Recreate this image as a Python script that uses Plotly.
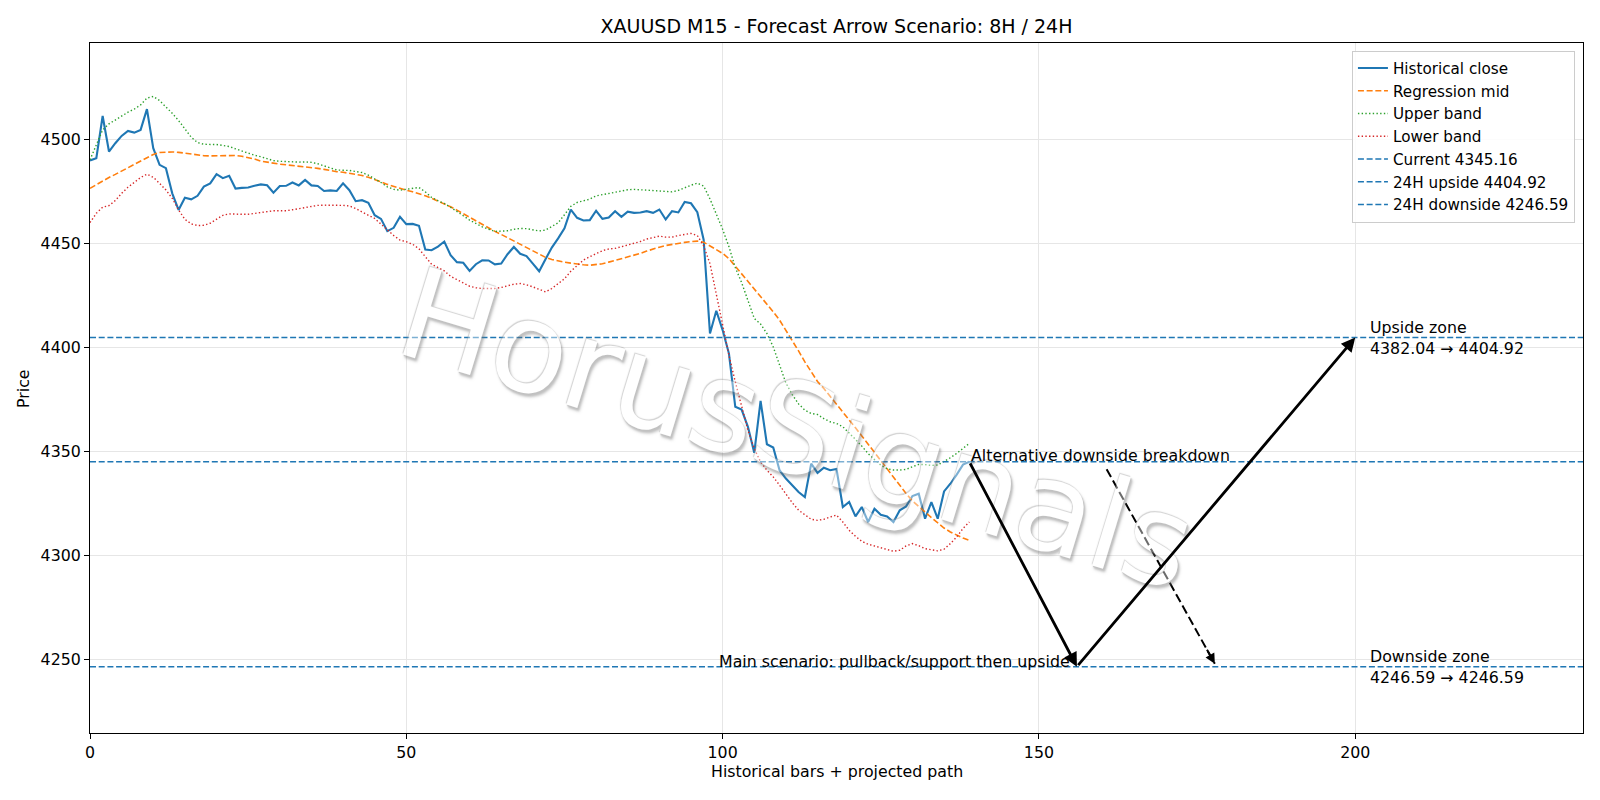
import plotly.graph_objects as go

# ---------------- data ----------------
close = [
    4490.1, 4491.2, 4511.5, 4494.4, 4498.4, 4501.9, 4504.3, 4503.5, 4504.8, 4514.8,
    4496.0, 4488.0, 4486.4, 4474.3, 4466.3, 4472.2, 4471.4, 4473.1, 4477.5, 4479.1,
    4483.5, 4481.6, 4482.7, 4476.6, 4476.9, 4477.1, 4477.9, 4478.6, 4478.2, 4474.6,
    4477.8, 4477.9, 4479.5, 4478.1, 4480.7, 4478.1, 4477.8, 4475.4, 4475.7, 4475.4,
    4479.1, 4475.8, 4470.5, 4471.0, 4469.7, 4463.8, 4462.0, 4456.1, 4457.7, 4463.0,
    4459.5, 4459.6, 4458.7, 4447.3, 4446.9, 4448.7, 4451.1, 4444.5, 4441.2, 4440.9,
    4437.0, 4440.2, 4442.1, 4442.0, 4440.1, 4440.5, 4445.0, 4448.5, 4445.2, 4444.1,
    4440.5, 4436.8, 4442.6, 4448.2, 4452.6, 4457.5, 4466.5, 4462.5, 4461.2, 4461.4,
    4465.9, 4462.0, 4462.7, 4465.7, 4463.0, 4465.5, 4464.9, 4465.1, 4465.7, 4464.9,
    4466.5, 4461.7, 4465.7, 4465.1, 4470.1, 4469.5, 4465.2, 4452.0, 4406.9, 4417.8,
    4408.5, 4397.2, 4371.6, 4370.3, 4362.0, 4349.5, 4374.5, 4353.6, 4352.0, 4341.1,
    4337.1, 4333.9, 4330.6, 4328.2, 4344.3, 4339.8, 4342.3, 4341.1, 4341.7, 4323.4,
    4325.8, 4318.9, 4323.4, 4316.2, 4322.6, 4319.7, 4318.9, 4316.2, 4321.8, 4323.7,
    4328.7, 4329.8, 4317.8, 4325.8, 4317.8, 4330.9, 4334.6, 4339.0, 4343.8, 4345.16,
]
mid = [
    4476.7, 4478.5, 4480.2, 4481.9, 4483.4, 4485.0, 4486.5, 4488.2, 4490.0, 4491.7,
    4493.0, 4493.9, 4494.2, 4494.2, 4494.0, 4493.6, 4493.1, 4492.6, 4492.4, 4492.3,
    4492.4, 4492.6, 4492.6, 4492.5, 4492.1, 4491.5, 4490.8, 4489.8, 4489.2, 4488.7,
    4488.3, 4488.0, 4487.7, 4487.4, 4487.0, 4486.7, 4486.3, 4485.8, 4485.2, 4484.7,
    4484.4, 4484.0, 4483.5, 4482.9, 4482.0, 4481.0, 4479.8, 4478.6, 4477.6, 4476.5,
    4475.8, 4475.0, 4474.2, 4473.1, 4471.9, 4470.6, 4469.4, 4467.8, 4466.2, 4464.5,
    4462.7, 4460.8, 4459.0, 4457.5, 4456.0, 4454.5, 4452.9, 4451.4, 4449.9, 4448.3,
    4446.7, 4445.1, 4443.5, 4442.5, 4441.7, 4441.2, 4440.7, 4440.2, 4439.9, 4439.7,
    4440.0, 4440.4, 4441.2, 4442.0, 4442.8, 4443.6, 4444.5, 4445.4, 4446.5, 4447.6,
    4448.4, 4449.2, 4449.8, 4450.3, 4450.7, 4451.1, 4451.3, 4450.8, 4448.9, 4447.3,
    4445.4, 4442.9, 4439.3, 4435.4, 4431.7, 4428.0, 4424.5, 4421.0, 4417.3, 4413.3,
    4408.5, 4403.7, 4398.5, 4393.2, 4388.4, 4383.8, 4380.4, 4376.7, 4372.9, 4369.2,
    4365.2, 4361.5, 4357.6, 4353.6, 4349.9, 4345.9, 4341.9, 4337.6, 4333.9, 4329.9,
    4326.3, 4323.8, 4321.0, 4318.3, 4315.7, 4313.3, 4311.4, 4309.8, 4308.5, 4307.4,
]
upper = [
    4490.4, 4497.6, 4504.8, 4507.7, 4509.6, 4511.5, 4513.3, 4514.8, 4516.8, 4520.1,
    4520.9, 4518.9, 4516.0, 4512.8, 4509.3, 4505.1, 4501.3, 4498.7, 4497.9, 4497.8,
    4497.8, 4497.3, 4496.8, 4495.7, 4494.7, 4493.4, 4492.6, 4491.9, 4491.0, 4490.0,
    4489.7, 4489.5, 4489.4, 4489.3, 4489.4, 4489.2, 4488.5, 4487.6, 4486.5, 4485.5,
    4485.4, 4485.3, 4484.8, 4484.3, 4483.0, 4481.4, 4479.5, 4477.4, 4476.2, 4475.8,
    4476.2, 4476.5, 4477.1, 4475.0, 4472.3, 4470.8, 4469.4, 4467.6, 4465.7, 4463.5,
    4461.4, 4459.7, 4458.2, 4457.0, 4456.0, 4456.1, 4456.3, 4457.0, 4457.4, 4457.3,
    4456.9, 4456.2, 4456.6, 4458.2, 4460.1, 4464.0, 4468.0, 4469.9, 4470.7, 4471.5,
    4473.1, 4473.8, 4474.2, 4474.8, 4475.5, 4476.0, 4476.2, 4476.0, 4475.8, 4475.5,
    4475.2, 4475.0, 4475.0, 4475.7, 4477.1, 4478.2, 4479.2, 4477.8, 4471.6, 4464.2,
    4457.0, 4448.6, 4438.6, 4431.4, 4422.6, 4414.1, 4411.4, 4406.9, 4400.4, 4391.6,
    4383.1, 4377.5, 4373.0, 4370.0, 4368.4, 4367.9, 4365.9, 4364.4, 4363.6, 4362.0,
    4359.1, 4355.9, 4352.7, 4349.1, 4346.2, 4343.6, 4341.8, 4341.2, 4341.2, 4341.5,
    4342.8, 4343.9, 4343.8, 4343.4, 4343.6, 4345.2, 4347.1, 4349.2, 4351.6, 4354.0,
]
lower = [
    4460.2, 4464.7, 4467.6, 4468.4, 4470.8, 4474.3, 4477.2, 4479.5, 4481.9, 4483.5,
    4482.0, 4479.1, 4475.9, 4471.9, 4466.3, 4461.8, 4459.6, 4458.8, 4458.9, 4459.9,
    4461.8, 4463.7, 4464.4, 4464.2, 4464.2, 4464.2, 4464.7, 4465.1, 4465.5, 4465.9,
    4465.9, 4465.9, 4466.4, 4466.9, 4467.6, 4468.2, 4468.5, 4468.6, 4468.6, 4468.6,
    4468.5, 4468.2, 4467.0, 4465.3, 4463.9, 4462.2, 4459.5, 4456.6, 4454.0, 4451.8,
    4451.0, 4449.8, 4447.6, 4443.8, 4440.2, 4438.6, 4437.0, 4434.4, 4432.8, 4430.9,
    4429.6, 4428.9, 4428.5, 4428.5, 4428.5, 4429.0, 4429.8, 4430.6, 4430.9, 4430.3,
    4429.3, 4428.0, 4426.9, 4428.5, 4430.9, 4433.2, 4436.8, 4439.7, 4442.2, 4443.8,
    4445.4, 4446.7, 4447.5, 4447.8, 4448.6, 4449.4, 4450.3, 4451.1, 4452.3, 4453.1,
    4453.7, 4453.2, 4453.2, 4454.0, 4454.5, 4455.0, 4454.0, 4449.0, 4440.5, 4425.3,
    4411.7, 4396.4, 4383.6, 4371.6, 4360.3, 4351.5, 4345.1, 4341.1, 4337.9, 4333.9,
    4329.5, 4325.5, 4321.9, 4319.5, 4317.5, 4317.0, 4317.5, 4318.6, 4319.5, 4316.2,
    4312.2, 4309.3, 4306.9, 4305.5, 4304.7, 4303.7, 4302.9, 4302.1, 4302.6, 4304.7,
    4305.8, 4304.8, 4303.4, 4302.9, 4302.3, 4303.1, 4305.8, 4309.0, 4313.1, 4316.2,
]
bars = list(range(len(close)))

current_price = 4345.16
upside_target = 4404.92
upside_zone_low = 4382.04
downside_target = 4246.59
downside_zone_low = 4246.59

main_path_x = [139, 156, 200]
main_path_y = [current_price, downside_target, upside_target]
alt_path_x = [160.7, 177.8]
alt_path_y = [4341.6, 4248.0]
zone_label_x = 202
x_range = [0, 236]
y_range = [4214.7, 4546.6]
x_ticks = [0, 50, 100, 150, 200]
y_ticks = [4250, 4300, 4350, 4400, 4450, 4500]

FONT = "DejaVu Sans"
FS = 15.8

fig = go.Figure()

fig.add_trace(go.Scatter(x=bars, y=close, mode="lines", name="Historical close",
                         line=dict(color="#1f77b4", width=2.1)))
fig.add_trace(go.Scatter(x=bars, y=mid, mode="lines", name="Regression mid",
                         line=dict(color="#ff7f0e", width=1.6, dash="6px,2.7px")))
fig.add_trace(go.Scatter(x=bars, y=upper, mode="lines", name="Upper band",
                         line=dict(color="#2ca02c", width=1.4, dash="1.4px,2.3px")))
fig.add_trace(go.Scatter(x=bars, y=lower, mode="lines", name="Lower band",
                         line=dict(color="#d62728", width=1.4, dash="1.4px,2.3px")))

# dashed alternative path (arrowhead added as annotation)
fig.add_trace(go.Scatter(x=alt_path_x, y=alt_path_y, mode="lines", showlegend=False,
                         hoverinfo="skip",
                         line=dict(color="black", width=2.0, dash="9px,4px")))

hlines = [
    (current_price, f"Current {current_price:.2f}"),
    (upside_target, f"24H upside {upside_target:.2f}"),
    (downside_target, f"24H downside {downside_target:.2f}"),
]
for val, label in hlines:
    fig.add_shape(type="line", xref="x domain", x0=0, x1=1, yref="y", y0=val, y1=val,
                  line=dict(color="#1f77b4", width=1.6, dash="6px,2.7px"),
                  showlegend=True, name=label, layer="above")

annotations = []
# watermark (drawn first so it sits under the other annotations)
annotations.append(dict(x=111.7, y=4360.8, xref="x", yref="y", text="HorusSignals",
                        showarrow=False, textangle=17, xanchor="center", yanchor="middle",
                        opacity=0.42,
                        font=dict(family=FONT, size=126, color="rgb(255,255,255)",
                                  shadow="-1px -1px 1px rgb(150,150,150), 1px 1px 1px rgb(110,110,110), 2px 2px 2px rgb(110,110,110), 3px 3px 3px rgba(110,110,110,0.8)")))
# main scenario arrows
for i in range(len(main_path_x) - 1):
    annotations.append(dict(
        x=main_path_x[i + 1], y=main_path_y[i + 1],
        ax=main_path_x[i], ay=main_path_y[i],
        xref="x", yref="y", axref="x", ayref="y",
        text="", showarrow=True, arrowhead=2, arrowsize=1.0, arrowwidth=2.8,
        arrowcolor="black", standoff=0, startstandoff=0))
# arrowhead for dashed alternative path
annotations.append(dict(
    x=alt_path_x[1], y=alt_path_y[1],
    ax=alt_path_x[1] - (alt_path_x[1] - alt_path_x[0]) * 0.08,
    ay=alt_path_y[1] - (alt_path_y[1] - alt_path_y[0]) * 0.08,
    xref="x", yref="y", axref="x", ayref="y",
    text="", showarrow=True, arrowhead=2, arrowsize=1.0, arrowwidth=2.0,
    arrowcolor="black", standoff=0))

# texts
annotations.append(dict(x=main_path_x[0], y=current_price, xref="x", yref="y",
                        text="Alternative downside breakdown", showarrow=False,
                        xanchor="left", yanchor="middle", yshift=6,
                        font=dict(family=FONT, size=FS, color="black")))
annotations.append(dict(x=main_path_x[1] - 0.8, y=downside_target, xref="x", yref="y",
                        text="Main scenario: pullback/support then upside", showarrow=False,
                        xanchor="right", yanchor="middle", yshift=5,
                        font=dict(family=FONT, size=FS, color="black")))
annotations.append(dict(x=zone_label_x, y=upside_target, xref="x", yref="y",
                        text=f"Upside zone<br>{upside_zone_low:.2f} \u2192 {upside_target:.2f}",
                        showarrow=False, xanchor="left", yanchor="middle", align="left",
                        font=dict(family=FONT, size=FS, color="black")))
annotations.append(dict(x=zone_label_x, y=downside_target, xref="x", yref="y",
                        text=f"Downside zone<br>{downside_zone_low:.2f} \u2192 {downside_target:.2f}",
                        showarrow=False, xanchor="left", yanchor="middle", align="left",
                        font=dict(family=FONT, size=FS, color="black")))

# axis titles
annotations.append(dict(x=0.5, y=-0.0557, xref="paper", yref="paper",
                        text="Historical bars + projected path", showarrow=False,
                        xanchor="center", yanchor="middle",
                        font=dict(family=FONT, size=FS, color="black")))
annotations.append(dict(x=-0.0449, y=0.5, xref="paper", yref="paper", text="Price",
                        showarrow=False, textangle=-90, xanchor="center", yanchor="middle",
                        font=dict(family=FONT, size=FS, color="black")))

fig.update_layout(
    width=1600, height=800,
    margin=dict(l=90, r=17, t=43, b=67),
    paper_bgcolor="white", plot_bgcolor="white",
    font=dict(family=FONT, size=FS, color="black"),
    title=dict(text="XAUUSD M15 - Forecast Arrow Scenario: 8H / 24H",
               x=0.5, xref="paper", y=1 - 26.5 / 800, yref="container",
               xanchor="center", yanchor="middle",
               font=dict(family=FONT, size=19, color="black")),
    annotations=annotations,
    legend=dict(x=0.9946, y=0.989, xanchor="right", yanchor="top",
                bgcolor="rgba(255,255,255,0.85)", bordercolor="#cccccc", borderwidth=1,
                font=dict(family=FONT, size=15.2, color="black")),
    showlegend=True,
)
fig.update_xaxes(range=x_range, tickvals=x_ticks, showgrid=True, gridcolor="#e6e6e6",
                 gridwidth=1, zeroline=False, showline=True, linecolor="black",
                 linewidth=1.1, mirror=True, ticks="outside", ticklen=5, tickwidth=1.1,
                 tickcolor="black", tickfont=dict(family=FONT, size=FS, color="black"))
fig.update_yaxes(range=y_range, tickvals=y_ticks, showgrid=True, gridcolor="#e6e6e6",
                 gridwidth=1, zeroline=False, showline=True, linecolor="black",
                 linewidth=1.1, mirror=True, ticks="outside", ticklen=5, tickwidth=1.1,
                 tickcolor="black", tickfont=dict(family=FONT, size=FS, color="black"))

fig.write_html("out.html")
